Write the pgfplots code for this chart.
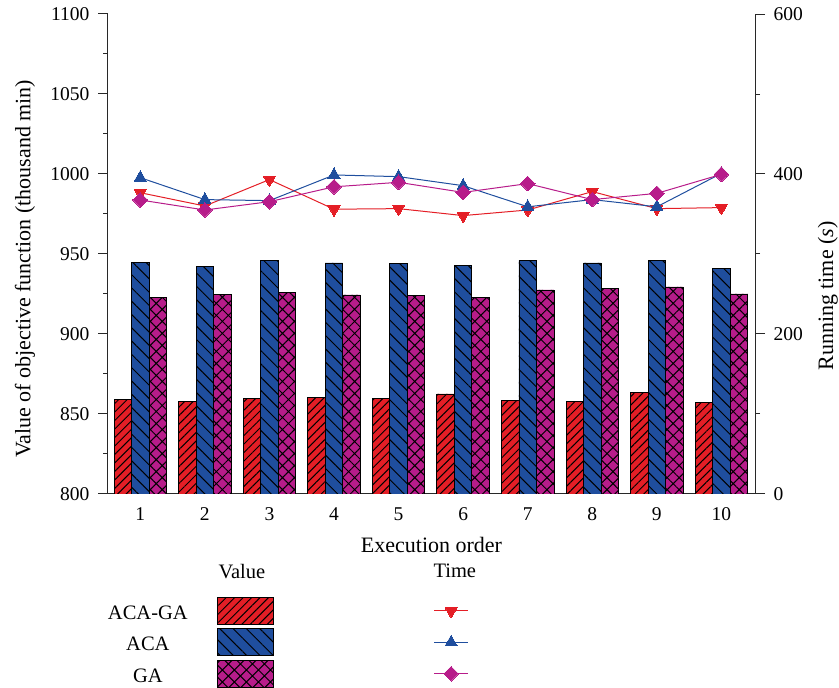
\documentclass[border=0pt]{standalone}
\usepackage{fontspec}
\setmainfont{Liberation Serif}
\usepackage{pgfplots}
\pgfplotsset{compat=1.18}
\usetikzlibrary{patterns.meta}
\definecolor{cred}{RGB}{228,30,38}
\definecolor{cblue}{RGB}{31,78,158}
\definecolor{cmag}{RGB}{183,28,138}
\definecolor{axc}{RGB}{40,40,40}
\tikzset{
  redbar/.style={draw=black, line width=0.9pt, fill=cred, postaction={pattern color=black, pattern={Lines[angle=45,distance=6pt,line width=1pt]}}},
  bluebar/.style={draw=black, line width=0.9pt, fill=cblue, postaction={pattern color=black, pattern={Lines[angle=-45,distance=9.4pt,line width=1pt]}}},
  magbar/.style={draw=black, line width=0.9pt, fill=cmag, postaction={pattern color=black, pattern={Hatch[angle=45,distance=8.5pt,line width=1pt]}}},
  redline/.style={cred, line width=1pt, mark=triangle*, mark size=7pt, mark options={rotate=180, solid, fill=cred, draw=cred, line width=0pt}},
  blueline/.style={cblue, line width=1pt, mark=triangle*, mark size=7pt, mark options={solid, fill=cblue, draw=cblue, line width=0pt}},
  magline/.style={cmag, line width=1pt, mark=square*, mark size=5.2pt, mark options={rotate=45, solid, fill=cmag, draw=cmag, line width=0pt}},
}
\pgfplotsset{
  barlegend/.style={legend image code/.code={\draw[##1] (0pt,-11pt) rectangle (56pt,16pt);}},
  linelegend/.style={legend image code/.code={\draw[mark repeat=2,mark phase=2,##1] plot coordinates {(0pt,2.5pt) (17pt,2.5pt) (34pt,2.5pt)};}},
}
\pgfplotstableread{
x acagavalue acavalue gavalue acagatime acatime gatime
1  859.2 944.8 922.7 376.6 395.4 367.5
2  857.9 942.1 924.6 360.0 368.0 355.0
3  859.6 946.0 926.2 393.0 366.7 365.4
4  860.6 944.4 924.4 356.0 398.8 384.0
5  859.8 943.8 923.8 356.7 396.7 389.6
6  862.5 943.1 922.9 348.0 385.4 377.0
7  858.5 946.0 927.5 355.0 359.0 388.0
8  858.1 944.4 928.3 378.0 368.0 368.0
9  863.5 946.0 929.4 356.7 359.0 375.8
10 857.3 941.2 925.0 358.0 400.8 399.6
}\datatable
\pgfplotsset{
  common/.style={
    at={(108pt,194pt)}, anchor=south west,
    scale only axis, width=647pt, height=480pt,
    xmin=0.5, xmax=10.52,
    axis line style={axc, line width=1pt},
    tick align=outside, major tick length=10pt, minor tick length=5pt,
    tick style={axc, line width=1pt},
    /pgf/number format/assume math mode=true,
    /pgf/number format/1000 sep={},
    tick label style={font=\fontsize{19.5}{22}\selectfont},
    label style={font=\fontsize{22}{26}\selectfont},
    clip mode=individual,
  }
}
\begin{document}
\begin{tikzpicture}
\useasboundingbox (0,0) rectangle (839pt,688pt);
\begin{axis}[common,
  ymin=800, ymax=1100,
  axis x line*=bottom, axis y line*=left,
  xtick={1,...,10}, x tick style={draw=none},
  ytick={800,850,...,1100}, minor y tick num=1,
  yticklabel style={xshift=-5pt},
  ybar=0pt, bar width=17.5pt,
  xlabel={Execution order},
  ylabel={Value of objective function (thousand min)},
  xlabel style={at={(axis description cs:0.5,-0.10625)}, anchor=center},
  ylabel style={at={(axis description cs:-0.1283,0.469)}, anchor=center},
]
\addplot[redbar] table[x=x, y=acagavalue] {\datatable};
\addplot[bluebar] table[x=x, y=acavalue] {\datatable};
\addplot[magbar] table[x=x, y=gavalue] {\datatable};
\node[font=\fontsize{20.5}{24}\selectfont] at (rel axis cs:0.207,-0.1625) {Value};
\node[font=\fontsize{20.5}{24}\selectfont] at (rel axis cs:0.536,-0.160) {Time};
\end{axis}
\begin{axis}[common,
  ymin=0, ymax=600,
  axis x line=none, axis y line*=right,
  ytick={0,200,400,600}, minor y tick num=1,
  yticklabel style={xshift=5pt},
  ylabel={Running time (\textit{s})},
  ylabel style={at={(axis description cs:1.1128,0.4125)}, anchor=center},
  legend columns=2, legend plot pos=right, legend cell align=center,
  legend style={at={(rel axis cs:0,-0.2146)}, anchor=north west, draw=none, fill=none,
    inner sep=0pt, outer sep=0pt, row sep=3.5pt, column sep=0pt,
    nodes={inner sep=0pt}, font=\fontsize{20.5}{24}\selectfont},
]
\addplot[redline, forget plot] table[x=x, y=acagatime] {\datatable};
\addplot[blueline, forget plot] table[x=x, y=acatime] {\datatable};
\addplot[magline, forget plot] table[x=x, y=gatime] {\datatable};
\addlegendimage{redbar, barlegend}
\addlegendentry{ACA-GA\rule{29pt}{0pt}}
\addlegendimage{redline, linelegend}
\addlegendentry{\rule{160pt}{0pt}}
\addlegendimage{bluebar, barlegend}
\addlegendentry{ACA\rule{29pt}{0pt}}
\addlegendimage{blueline, linelegend}
\addlegendentry{\rule{160pt}{0pt}}
\addlegendimage{magbar, barlegend}
\addlegendentry{GA\rule{29pt}{0pt}}
\addlegendimage{magline, linelegend}
\addlegendentry{\rule{160pt}{0pt}}
\end{axis}
\end{tikzpicture}
\end{document}
